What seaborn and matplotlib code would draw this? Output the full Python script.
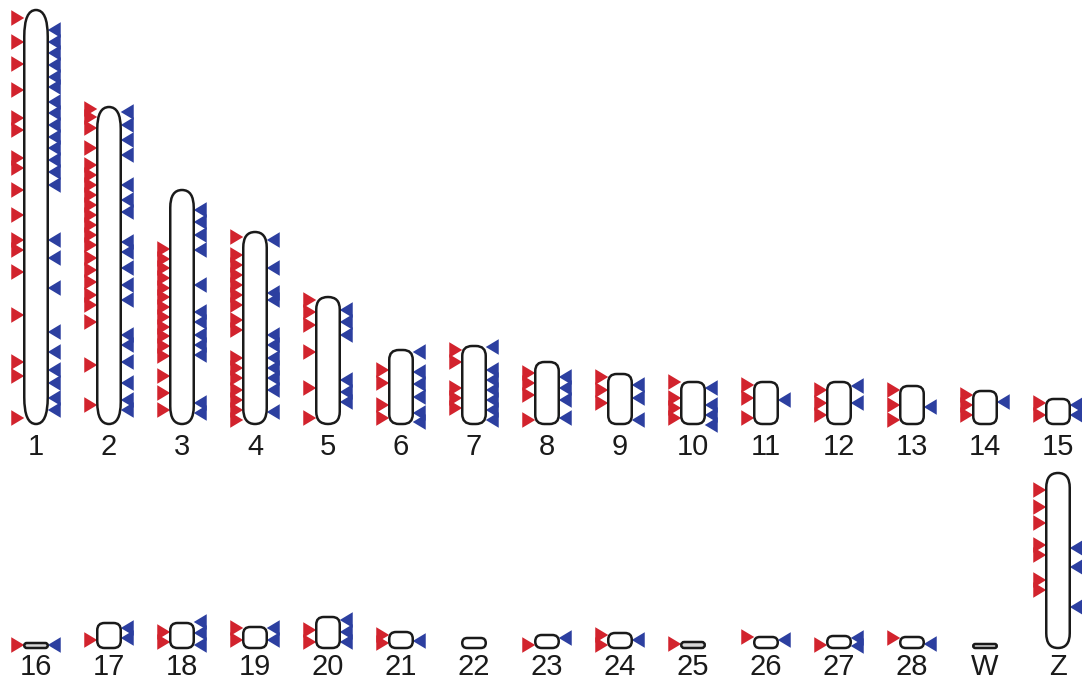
import numpy as np
import pandas as pd
import matplotlib
matplotlib.use("Agg")
import matplotlib.pyplot as plt
from matplotlib.patches import FancyBboxPatch
from matplotlib.markers import MarkerStyle
import seaborn as sns

# ---------------- data ----------------
row1_names = ["1", "2", "3", "4", "5", "6", "7", "8", "9", "10", "11", "12", "13", "14", "15"]
row1_lengths = [414, 317, 234, 192, 127, 74, 78, 62, 50, 42, 42, 42, 38, 33, 25]
row2_names = ["16", "17", "18", "19", "20", "21", "22", "23", "24", "25", "26", "27", "28", "W", "Z"]
row2_lengths = [5, 25, 25, 21, 31, 16, 10, 13, 15, 6, 11, 12, 11, 4, 175]

# marker positions measured from the chromosome top (same units as lengths)
red_positions = {
    "1": [8, 32, 54, 80, 108, 120, 148, 158, 180, 205, 230, 240, 262, 305, 352, 366, 408],
    "2": [2, 10, 21, 41, 58, 68, 78, 88, 98, 108, 118, 128, 138, 151, 163, 175, 188, 198, 215, 258, 298],
    "3": [59, 69, 78, 88, 98, 107, 117, 127, 137, 146, 156, 166, 186, 203, 220],
    "4": [5, 23, 33, 43, 53, 63, 73, 88, 98, 126, 136, 146, 158, 168, 178, 188],
    "5": [3, 15, 28, 55, 91, 121],
    "6": [20, 33, 55, 68],
    "7": [4, 16, 42, 52, 62],
    "8": [11, 21, 33, 58],
    "9": [3, 16, 29],
    "10": [0, 16, 26, 36],
    "11": [3, 16, 36],
    "12": [8, 21, 33],
    "13": [4, 19, 34],
    "14": [4, 14, 24],
    "15": [4, 16],
    "16": [2],
    "17": [17],
    "18": [9, 19],
    "19": [1, 13],
    "20": [13, 25],
    "21": [3, 11],
    "23": [10],
    "24": [2, 12],
    "25": [2],
    "26": [0],
    "27": [9],
    "28": [1],
    "Z": [17, 34, 50, 72, 82, 107, 117],
}
blue_positions = {
    "1": [20, 32, 43, 55, 67, 77, 92, 103, 115, 127, 138, 150, 162, 175, 230, 248, 278, 322, 342, 360, 373, 388, 400],
    "2": [5, 18, 33, 48, 78, 93, 105, 135, 145, 161, 178, 193, 228, 238, 255, 276, 293, 303],
    "3": [20, 32, 45, 60, 95, 122, 132, 145, 155, 165, 213, 223],
    "4": [8, 36, 61, 68, 103, 113, 126, 136, 146, 158, 180],
    "5": [13, 25, 38, 83, 95, 105],
    "6": [2, 22, 34, 47, 63, 72],
    "7": [1, 24, 34, 44, 54, 64, 74],
    "8": [15, 26, 38, 56],
    "9": [11, 24, 46],
    "10": [6, 23, 33, 43],
    "11": [18],
    "12": [4, 21],
    "13": [21],
    "14": [11],
    "15": [6, 16],
    "16": [2],
    "17": [5, 15],
    "18": [-1, 10, 22],
    "19": [1, 13],
    "20": [3, 15, 25],
    "21": [9],
    "23": [3],
    "24": [7],
    "26": [3],
    "27": [2, 10],
    "28": [7],
    "Z": [75, 94, 134],
}

# ---------------- layout ----------------
W_PX, H_PX, DPI = 1082, 684, 100
x_start, x_step = 36, 73
baselines = [424, 648]
label_gaps = [23, 19]
chrom_w = 23.5
red_c = "#D2232D"
blue_c = "#2C3FA0"

sns.set_theme(style="white")
plt.rcParams["font.family"] = ["Liberation Sans", "DejaVu Sans"]

fig = plt.figure(figsize=(W_PX / DPI, H_PX / DPI), dpi=DPI)
ax = fig.add_axes([0, 0, 1, 1])
ax.set_xlim(0, W_PX)
ax.set_ylim(H_PX, 0)
ax.axis("off")

chroms = []
for r, (names, lengths) in enumerate([(row1_names, row1_lengths), (row2_names, row2_lengths)]):
    for i, (n, L) in enumerate(zip(names, lengths)):
        chroms.append({"name": n, "length": L, "x": x_start + i * x_step,
                       "base": baselines[r], "gap": label_gaps[r]})
chrom_df = pd.DataFrame(chroms).set_index("name")

rows = []
for color, posdict in [("red", red_positions), ("blue", blue_positions)]:
    for n, plist in posdict.items():
        c = chrom_df.loc[n]
        top = c["base"] - c["length"]
        for p in plist:
            xe = c["x"] - chrom_w / 2 if color == "red" else c["x"] + chrom_w / 2
            rows.append({"chrom": n, "side": color, "x": xe, "y": top + p})
marks = pd.DataFrame(rows)

m_red = MarkerStyle([(0, 0), (-1, 0.6), (-1, -0.6), (0, 0)])
m_blue = MarkerStyle([(0, 0), (1, 0.6), (1, -0.6), (0, 0)])
msize = 350

sns.scatterplot(data=marks[marks.side == "red"], x="x", y="y", marker=m_red,
                color=red_c, s=msize, linewidth=0, edgecolor="none",
                ax=ax, legend=False, zorder=2)
sns.scatterplot(data=marks[marks.side == "blue"], x="x", y="y", marker=m_blue,
                color=blue_c, s=msize, linewidth=0, edgecolor="none",
                ax=ax, legend=False, zorder=2)

for n, c in chrom_df.iterrows():
    L = c["length"]
    ry = min(L / 2, 6 + 0.05 * L)
    rx = min(chrom_w / 2, ry)
    patch = FancyBboxPatch((c["x"] - chrom_w / 2, c["base"] - L), chrom_w, L,
                           boxstyle=f"round,pad=0,rounding_size={rx}",
                           mutation_aspect=ry / rx if rx > 0 else 1,
                           facecolor="#d8d8d8" if L < 8 else "white",
                           edgecolor="#1a1a1a", linewidth=1.8, zorder=3)
    ax.add_patch(patch)
    ax.text(c["x"], c["base"] + c["gap"], n, ha="center", va="center",
            fontsize=21, color="#1a1a1a", zorder=4)

ax.set_xlabel("")
ax.set_ylabel("")
fig.savefig("out.png", dpi=DPI)
